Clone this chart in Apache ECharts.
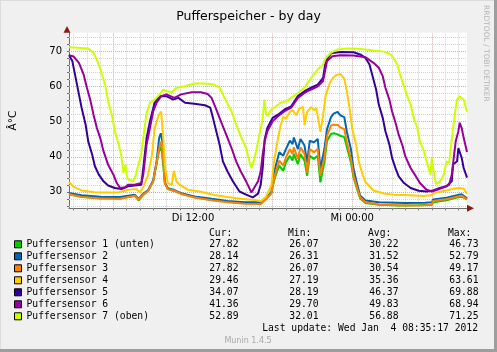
<!DOCTYPE html>
<html>
<head>
<meta charset="utf-8">
<title>Pufferspeicher - by day</title>
<script src="https://cdn.jsdelivr.net/npm/echarts@6/dist/echarts.min.js"></script>
<style>
  html, body { margin: 0; padding: 0; background: #f0f0f0; }
  #chart { width: 497px; height: 352px; }
</style>
</head>
<body>
<div id="chart"></div>
<script>
// Stunden seit Di 00:00, Temperatur in °C
const xMin = 2.65;
const xMax = 32.65;
const yMin = 25.3;
const yMax = 75.4;

const xTickHours = [12, 24];
const xTickLabels = ['Di 12:00', 'Mi 00:00'];
const yTickValues = [30, 40, 50, 60, 70];

const names = [
  'Puffersensor 1 (unten)',
  'Puffersensor 2',
  'Puffersensor 3',
  'Puffersensor 4',
  'Puffersensor 5',
  'Puffersensor 6',
  'Puffersensor 7 (oben)'
];
const colors = ['#00CC00', '#0066B3', '#FF8000', '#FFCC00', '#330099', '#990099', '#CCFF00'];

const curVals = [27.82, 28.14, 27.82, 29.46, 34.07, 41.36, 52.89];
const minVals = [26.07, 26.31, 26.07, 27.19, 28.19, 29.70, 32.01];
const avgVals = [30.22, 31.52, 30.54, 35.36, 46.37, 49.83, 56.88];
const maxVals = [46.73, 52.79, 49.17, 63.61, 69.88, 68.94, 71.25];

const sensor1 = [[2.65, 29.3], [3.6, 28.6], [5, 28.2], [6.5, 28.1], [7.6, 28.9], [7.9, 27.6], [8.25, 29.2], [8.6, 30.2], [9.0, 33.0], [9.25, 38.0], [9.5, 42.9], [9.65, 41.5], [9.88, 32.4], [10.1, 30.8], [10.6, 30.2], [11.1, 29.5], [12.1, 28.5], [13.4, 27.7], [14.6, 27.2], [15.9, 26.8], [17.1, 26.7], [17.5, 28.0], [17.9, 29.6], [18.1, 33.0], [18.3, 35.5], [18.5, 37.5], [18.8, 36.0], [19.0, 38.4], [19.3, 40.3], [19.5, 38.9], [19.6, 40.8], [19.9, 37.9], [20.1, 40.8], [20.4, 38.9], [20.6, 34.6], [20.8, 40.3], [21.1, 39.4], [21.4, 40.3], [21.6, 32.7], [21.9, 38.4], [22.1, 44.6], [22.4, 46.5], [22.6, 46.73], [22.9, 46.4], [23.1, 46.0], [23.4, 45.6], [23.6, 42.7], [23.9, 38.4], [24.1, 34.1], [24.4, 30.3], [24.6, 28.1], [25.0, 26.8], [26.0, 26.3], [27.5, 26.07], [29.0, 26.2], [30.0, 26.3], [30.1, 27.0], [31.1, 27.6], [31.9, 28.4], [32.25, 28.6], [32.65, 27.82]];
const sensor2 = [[2.65, 29.7], [3.6, 29.0], [5, 28.6], [6.5, 28.5], [7.6, 29.2], [7.9, 28.0], [8.25, 29.5], [8.6, 30.4], [9.0, 33.3], [9.25, 38.6], [9.45, 45.5], [9.57, 46.7], [9.7, 44.0], [9.88, 32.6], [10.1, 31.0], [10.6, 30.5], [11.1, 29.6], [12.1, 28.7], [13.4, 28.0], [14.6, 27.4], [15.9, 27.0], [17.1, 27.0], [17.5, 28.4], [17.9, 29.8], [18.1, 35.5], [18.3, 38.4], [18.5, 41.3], [18.8, 40.3], [19.0, 42.2], [19.3, 44.6], [19.5, 43.6], [19.6, 45.5], [19.9, 42.2], [20.1, 45.1], [20.4, 43.2], [20.6, 38.4], [20.8, 44.6], [21.1, 44.1], [21.4, 45.1], [21.6, 36.5], [21.9, 42.2], [22.1, 47.9], [22.4, 51.3], [22.6, 52.3], [22.9, 52.79], [23.1, 51.8], [23.4, 51.3], [23.6, 47.0], [23.9, 42.2], [24.1, 36.5], [24.4, 31.7], [24.6, 28.9], [25.0, 27.5], [26.0, 27.0], [28.0, 26.8], [29.5, 26.9], [30.0, 27.0], [30.1, 27.8], [31.1, 28.3], [31.9, 29.0], [32.25, 29.3], [32.65, 28.14]];
const sensor3 = [[2.65, 29.3], [3.6, 28.5], [5, 28.1], [6.5, 28.0], [7.6, 28.9], [7.9, 27.8], [8.25, 29.2], [8.6, 30.2], [9.0, 33.0], [9.25, 38.3], [9.5, 43.5], [9.6, 44.3], [9.7, 42.0], [9.88, 32.4], [10.1, 30.8], [10.6, 30.3], [11.1, 29.4], [12.1, 28.4], [13.4, 27.6], [14.6, 27.0], [15.9, 26.6], [17.1, 26.5], [17.5, 27.9], [17.9, 29.6], [18.1, 33.5], [18.3, 36.5], [18.5, 38.9], [18.8, 37.5], [19.0, 39.8], [19.3, 42.2], [19.5, 40.8], [19.6, 42.7], [19.9, 39.4], [20.1, 42.7], [20.4, 40.8], [20.6, 35.5], [20.8, 42.2], [21.1, 41.3], [21.4, 42.2], [21.6, 34.6], [21.9, 39.8], [22.1, 46.0], [22.4, 48.9], [22.6, 49.17], [22.9, 49.1], [23.1, 48.4], [23.4, 47.9], [23.6, 44.1], [23.9, 39.4], [24.1, 34.6], [24.4, 30.8], [24.6, 28.4], [25.0, 27.0], [26.0, 26.4], [28.0, 26.1], [29.5, 26.2], [30.0, 26.4], [30.1, 27.4], [31.1, 27.9], [31.9, 28.6], [32.25, 28.9], [32.65, 27.82]];
const sensor4 = [[2.65, 32.8], [3.0, 31.4], [3.6, 30.4], [4.6, 29.9], [5.6, 29.8], [6.4, 29.9], [6.9, 30.4], [7.4, 30.7], [7.75, 30.7], [8.0, 29.9], [8.25, 31.4], [8.6, 34.7], [8.9, 40.4], [9.1, 48.0], [9.4, 51.8], [9.6, 52.9], [9.75, 45.4], [9.9, 36.8], [10.1, 32.5], [10.4, 32.0], [10.55, 36.0], [10.75, 33.0], [11.0, 32.0], [11.6, 30.6], [12.6, 30.0], [13.6, 29.1], [14.6, 28.5], [15.6, 28.0], [16.6, 27.7], [17.1, 27.3], [17.5, 28.6], [17.9, 31.8], [18.1, 38.5], [18.4, 45.2], [18.6, 49.0], [18.8, 51.4], [19.0, 50.9], [19.3, 52.8], [19.5, 53.3], [19.8, 51.8], [20.0, 53.8], [20.3, 54.2], [20.4, 49.0], [20.6, 52.8], [20.9, 54.2], [21.1, 53.3], [21.3, 53.8], [21.6, 47.1], [21.8, 51.8], [22.0, 57.6], [22.3, 60.9], [22.5, 62.3], [22.8, 63.3], [23.1, 63.61], [23.4, 62.3], [23.6, 58.5], [23.8, 53.8], [24.0, 48.0], [24.3, 43.3], [24.5, 38.5], [24.8, 34.7], [25.0, 32.8], [25.6, 30.4], [26.4, 29.5], [27.1, 29.2], [28.4, 29.0], [29.4, 28.8], [29.9, 29.0], [30.4, 29.9], [31.1, 30.4], [31.6, 30.9], [32.1, 31.1], [32.4, 30.9], [32.65, 29.46]];
const sensor5 = [[2.65, 69.0], [2.9, 67.3], [3.1, 63.5], [3.4, 57.8], [3.6, 54.0], [3.9, 49.2], [4.1, 44.4], [4.4, 40.6], [4.6, 37.3], [4.9, 34.9], [5.25, 33.0], [5.6, 31.8], [6.1, 31.1], [6.6, 30.8], [7.1, 31.6], [7.6, 31.8], [8.1, 32.0], [8.25, 36.8], [8.5, 45.4], [8.75, 50.1], [9.1, 55.4], [9.5, 57.3], [10.0, 57.3], [10.5, 56.3], [10.9, 56.8], [11.4, 55.4], [12.1, 55.1], [12.9, 54.7], [13.3, 54.0], [13.5, 51.1], [13.75, 47.3], [14.0, 43.5], [14.25, 38.7], [14.6, 35.8], [15.0, 33.0], [15.5, 30.1], [16.0, 29.2], [16.5, 28.4], [16.9, 29.5], [17.1, 32.0], [17.25, 36.8], [17.4, 45.0], [17.6, 48.2], [18.0, 51.1], [18.4, 52.0], [18.9, 53.5], [19.4, 54.4], [19.9, 57.3], [20.4, 58.7], [20.9, 59.7], [21.4, 60.6], [21.8, 62.5], [22.0, 67.3], [22.4, 69.5], [23.1, 69.88], [24.1, 69.8], [24.6, 69.2], [25.0, 68.2], [25.3, 66.3], [25.5, 63.5], [25.8, 59.2], [26.0, 54.9], [26.3, 51.1], [26.5, 47.3], [26.8, 43.5], [27.0, 39.7], [27.3, 36.3], [27.5, 34.4], [27.9, 32.5], [28.4, 31.1], [29.0, 30.3], [29.6, 30.1], [30.1, 30.4], [30.6, 31.1], [31.1, 31.6], [31.5, 33.0], [31.6, 37.8], [31.9, 38.7], [32.0, 42.5], [32.1, 43.0], [32.25, 39.7], [32.4, 36.8], [32.65, 34.07]];
const sensor6 = [[2.65, 68.94], [3.0, 68.6], [3.4, 66.8], [3.75, 63.5], [4.0, 59.7], [4.25, 56.3], [4.5, 52.0], [4.75, 48.2], [5.0, 45.4], [5.25, 41.6], [5.6, 37.7], [6.0, 34.9], [6.25, 32.5], [6.5, 31.1], [6.9, 31.3], [7.1, 32.0], [7.6, 32.0], [8.1, 32.5], [8.25, 34.9], [8.5, 43.5], [8.75, 48.2], [9.0, 53.0], [9.25, 55.4], [9.6, 57.3], [10.0, 57.8], [10.1, 57.3], [10.6, 56.8], [11.1, 57.8], [11.9, 58.4], [12.6, 58.4], [13.1, 57.9], [13.4, 56.8], [13.75, 53.5], [14.1, 50.1], [14.5, 46.3], [14.9, 42.5], [15.25, 38.7], [15.6, 35.8], [16.0, 33.0], [16.4, 29.8], [16.6, 31.1], [16.9, 33.0], [17.1, 35.8], [17.25, 40.6], [17.4, 44.4], [17.6, 47.3], [18.0, 50.1], [18.4, 51.6], [18.9, 53.0], [19.4, 54.0], [19.9, 56.8], [20.4, 58.2], [20.9, 59.2], [21.4, 60.1], [21.8, 61.6], [21.9, 63.5], [22.1, 67.3], [22.5, 68.7], [23.1, 68.94], [24.1, 68.9], [25.0, 68.4], [25.6, 66.8], [26.0, 65.4], [26.3, 63.0], [26.5, 59.7], [26.8, 56.3], [27.0, 53.0], [27.3, 49.2], [27.5, 46.3], [27.8, 43.0], [28.0, 40.1], [28.4, 36.8], [28.8, 34.4], [29.1, 32.5], [29.6, 30.6], [30.0, 30.1], [30.4, 30.6], [30.9, 31.3], [31.3, 32.0], [31.5, 34.9], [31.8, 44.4], [32.0, 47.3], [32.1, 49.7], [32.25, 48.2], [32.4, 45.4], [32.65, 41.36]];
const sensor7 = [[2.65, 71.25], [3.6, 71.0], [4.1, 70.9], [4.5, 69.7], [4.9, 66.3], [5.1, 63.9], [5.4, 60.1], [5.6, 55.8], [5.9, 51.6], [6.1, 47.3], [6.4, 43.5], [6.6, 40.1], [6.75, 35.4], [6.9, 37.7], [7.0, 34.9], [7.1, 33.5], [7.5, 33.0], [7.7, 34.9], [7.9, 38.2], [8.1, 40.6], [8.25, 45.4], [8.5, 52.5], [8.75, 55.4], [9.1, 56.3], [9.5, 57.8], [9.75, 59.2], [10.0, 58.7], [10.4, 58.4], [10.75, 59.7], [11.4, 60.1], [12.1, 60.9], [12.9, 60.9], [13.6, 60.6], [14.0, 59.7], [14.25, 57.8], [14.5, 55.8], [14.9, 53.0], [15.25, 49.2], [15.6, 45.8], [16.0, 42.5], [16.25, 38.7], [16.4, 36.8], [16.6, 39.2], [16.75, 41.6], [17.0, 46.3], [17.1, 48.0], [17.25, 51.0], [17.38, 56.3], [17.5, 52.5], [17.6, 51.6], [17.9, 53.5], [18.25, 54.4], [18.6, 55.4], [19.0, 55.8], [19.4, 56.8], [19.9, 58.2], [20.4, 59.7], [20.9, 62.5], [21.4, 64.9], [21.8, 66.3], [22.0, 68.2], [22.4, 69.7], [22.9, 70.6], [23.6, 70.9], [24.4, 70.8], [25.0, 70.6], [25.6, 70.3], [26.4, 70.0], [26.9, 69.2], [27.1, 68.2], [27.4, 66.3], [27.6, 63.5], [27.9, 60.1], [28.1, 57.8], [28.4, 54.9], [28.6, 51.6], [28.9, 48.2], [29.1, 44.4], [29.4, 41.6], [29.6, 38.7], [29.9, 34.9], [30.0, 39.7], [30.1, 36.8], [30.3, 32.3], [30.6, 32.8], [30.9, 34.9], [31.1, 38.7], [31.3, 38.2], [31.4, 41.6], [31.6, 48.2], [31.8, 54.0], [31.9, 56.3], [32.1, 57.3], [32.4, 56.3], [32.65, 52.89]];

const sensors = [sensor1, sensor2, sensor3, sensor4, sensor5, sensor6, sensor7];

const lastUpdate = 'Last update: Wed Jan  4 08:35:17 2012';
const sans = '"DejaVu Sans", Verdana, sans-serif';
const mono = '"DejaVu Sans Mono", monospace';

// Rasterlinien: stündlich / alle 2 °C (fein), alle 6 h / 10 °C (rot)
const hourLines = [];
for (let h = Math.ceil(xMin); h <= xMax; h++) hourLines.push(h);
const tempLines = [];
for (let v = 26; v <= 74; v += 2) tempLines.push(v);

const minorGrid = { color: '#d2d2d2', width: 1, type: [1, 1] };
const majorGrid = { color: '#e2a4a4', width: 1, type: [1, 1] };

const gridLines = [];
hourLines.forEach(h => gridLines.push({ xAxis: h, lineStyle: h % 6 === 0 ? majorGrid : minorGrid }));
tempLines.forEach(v => gridLines.push({ yAxis: v, lineStyle: v % 10 === 0 ? majorGrid : minorGrid }));

const chart = echarts.init(document.getElementById('chart'), null, { renderer: 'canvas' });

const option = {
  animation: false,
  backgroundColor: '#f0f0f0',
  title: {
    text: 'Pufferspeicher - by day',
    left: 'center',
    top: 5,
    textStyle: { fontFamily: sans, fontSize: 12.5, fontWeight: 'normal', color: '#000' }
  },
  grid: {
    left: 67, top: 32.7, width: 400, height: 175.6,
    show: true, backgroundColor: '#ffffff', borderWidth: 0
  },
  xAxis: {
    type: 'value', min: xMin, max: xMax,
    splitLine: { show: false },
    axisLine: { show: true, lineStyle: { color: '#6e6e6e', width: 1 } },
    axisTick: { show: true, customValues: hourLines, length: 2, lineStyle: { color: '#6e6e6e' } },
    axisLabel: {
      customValues: xTickHours,
      formatter: v => xTickLabels[xTickHours.indexOf(v)] || '',
      fontFamily: sans, fontSize: 10, color: '#000', margin: 5
    }
  },
  yAxis: {
    type: 'value', min: yMin, max: yMax,
    name: 'Â°C', nameLocation: 'middle', nameGap: 50, nameRotate: 90,
    nameTextStyle: { fontFamily: sans, fontSize: 10.5, color: '#000' },
    splitLine: { show: false },
    axisLine: { show: true, lineStyle: { color: '#6e6e6e', width: 1 } },
    axisTick: { show: true, customValues: tempLines, length: 2, lineStyle: { color: '#6e6e6e' } },
    axisLabel: {
      customValues: yTickValues,
      fontFamily: sans, fontSize: 10, color: '#000', margin: 7
    }
  },
  legend: {
    data: names,
    orient: 'vertical',
    left: 14, top: 238.3,
    padding: 0, itemGap: 0,
    itemWidth: 7, itemHeight: 7,
    icon: 'rect',
    selectedMode: false,
    itemStyle: { borderColor: '#000', borderWidth: 1 },
    textStyle: {
      fontFamily: mono, fontSize: 9.7, color: '#000', lineHeight: 12,
      rich: {
        n: { fontFamily: mono, fontSize: 9.7, width: 172, align: 'left', lineHeight: 12 },
        c: { fontFamily: mono, fontSize: 9.7, width: 40, align: 'right', lineHeight: 12 },
        m: { fontFamily: mono, fontSize: 9.7, width: 80, align: 'right', lineHeight: 12 },
        a: { fontFamily: mono, fontSize: 9.7, width: 80, align: 'right', lineHeight: 12 },
        x: { fontFamily: mono, fontSize: 9.7, width: 80, align: 'right', lineHeight: 12 }
      }
    },
    formatter: name => {
      const i = names.indexOf(name);
      return '{n|' + name + '}{c|' + curVals[i].toFixed(2) + '}{m|' + minVals[i].toFixed(2) +
        '}{a|' + avgVals[i].toFixed(2) + '}{x|' + maxVals[i].toFixed(2) + '}';
    }
  },
  graphic: [
    // Rahmen
    { type: 'rect', left: 0, top: 0, shape: { width: 497, height: 1 }, style: { fill: '#dcdcdc' }, silent: true },
    { type: 'rect', left: 0, top: 0, shape: { width: 1, height: 352 }, style: { fill: '#dcdcdc' }, silent: true },
    { type: 'rect', left: 0, top: 349, shape: { width: 497, height: 3 }, style: { fill: '#9e9e9e' }, silent: true },
    { type: 'rect', left: 494, top: 0, shape: { width: 3, height: 352 }, style: { fill: '#9e9e9e' }, silent: true },
    // Pfeile der Achsen
    { type: 'polygon', shape: { points: [[63.5, 32.7], [70.5, 32.7], [67, 26]] }, style: { fill: '#8b1a1a' }, silent: true, z: 10 },
    { type: 'polygon', shape: { points: [[467, 204.8], [467, 211.8], [474, 208.3]] }, style: { fill: '#8b1a1a' }, silent: true, z: 10 },
    // RRDtool Kennung
    {
      type: 'text', x: 486, y: 5, rotation: -Math.PI / 2,
      style: { text: 'RRDTOOL / TOBI OETIKER', fill: '#b4b4b4', font: '7.5px ' + sans, textAlign: 'left', textVerticalAlign: 'middle' },
      silent: true
    },
    // Tabellenkopf
    { type: 'text', x: 209, y: 233.3, style: { text: 'Cur:', fill: '#000', font: '9.7px ' + mono, textVerticalAlign: 'middle' }, silent: true },
    { type: 'text', x: 288, y: 233.3, style: { text: 'Min:', fill: '#000', font: '9.7px ' + mono, textVerticalAlign: 'middle' }, silent: true },
    { type: 'text', x: 368, y: 233.3, style: { text: 'Avg:', fill: '#000', font: '9.7px ' + mono, textVerticalAlign: 'middle' }, silent: true },
    { type: 'text', x: 448, y: 233.3, style: { text: 'Max:', fill: '#000', font: '9.7px ' + mono, textVerticalAlign: 'middle' }, silent: true },
    { type: 'text', x: 478, y: 328.3, style: { text: lastUpdate, fill: '#000', font: '9.7px ' + mono, textAlign: 'right', textVerticalAlign: 'middle' }, silent: true },
    { type: 'text', x: 248, y: 341, style: { text: 'Munin 1.4.5', fill: '#a8a8a8', font: '8px ' + sans, textAlign: 'center', textVerticalAlign: 'middle' }, silent: true }
  ],
  series: [
    {
      name: '_grid', type: 'line', data: [], silent: true, z: 1,
      markLine: { silent: true, symbol: 'none', label: { show: false }, z: 1, animation: false, data: gridLines }
    }
  ].concat(sensors.map((d, i) => ({
    name: names[i],
    type: 'line',
    data: d,
    showSymbol: false,
    symbol: 'none',
    z: 3 + i,
    color: colors[i],
    lineStyle: { color: colors[i], width: 2 },
    emphasis: { disabled: true }
  })))
};

chart.setOption(option);
</script>
</body>
</html>
